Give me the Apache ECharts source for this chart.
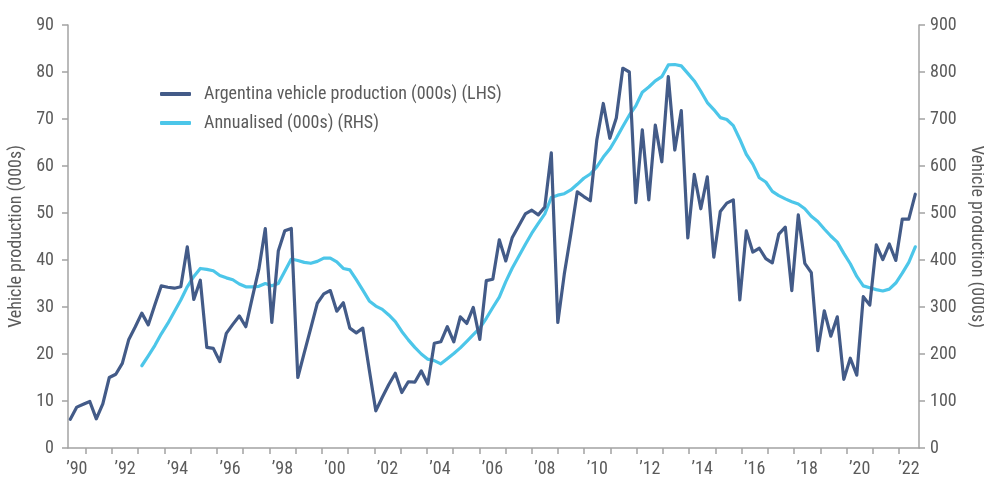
<!DOCTYPE html>
<html>
<head>
<meta charset="utf-8">
<script src="https://cdn.jsdelivr.net/npm/echarts@6/dist/echarts.min.js"></script>
<style>
  html, body { margin: 0; padding: 0; background: #fff; }
  #chart { width: 984px; height: 479px; }
</style>
</head>
<body>
<div id="chart"></div>
<script>
// quarterly vehicle production, 000s (LHS), from mid-1990
const production = [
  6.1, 8.7, 9.3, 9.9, 6.2, 9.4, 15.0, 15.7, 18.0, 23.1,
  25.8, 28.7, 26.2, 30.4, 34.5, 34.2, 34.0, 34.3, 42.8, 31.6,
  35.7, 21.4, 21.2, 18.4, 24.4, 26.3, 28.1, 25.8, 32.0, 38.0,
  46.7, 26.7, 41.9, 46.2, 46.7, 15.0, 20.3, 25.5, 30.8, 32.8,
  33.5, 29.1, 30.9, 25.5, 24.5, 25.5, 16.6, 7.9, 10.8, 13.5,
  15.9, 11.8, 14.1, 14.0, 16.4, 13.6, 22.3, 22.6, 25.8, 22.6,
  27.9, 26.5, 29.9, 23.1, 35.6, 35.9, 44.3, 39.8, 44.8, 47.3,
  49.8, 50.6, 49.6, 51.3, 62.8, 26.7, 37.0, 45.5, 54.5, 53.5,
  52.6, 65.5, 73.3, 65.9, 70.2, 80.8, 80.0, 52.2, 67.7, 52.8,
  68.7, 60.9, 79.0, 63.4, 71.8, 44.7, 58.2, 50.9, 57.7, 40.6,
  50.3, 52.1, 52.8, 31.5, 46.2, 41.7, 42.5, 40.3, 39.4, 45.5,
  47.0, 33.5, 49.6, 39.3, 37.3, 20.7, 29.2, 23.8, 27.9, 14.6,
  19.1, 15.5, 32.2, 30.4, 43.2, 40.1, 43.4, 39.9, 48.7, 48.7,
  54.0
];

// annualised production, 000s (RHS), starts at the 12th quarter
const annualisedStart = 11;
const annualised = [
  175, 196, 218, 243, 265, 290, 315, 343, 365, 382,
  380, 377, 367, 362, 358, 349, 343, 343, 344, 350,
  345, 350, 376, 402, 399, 395, 393, 397, 404, 404,
  396, 382, 379, 358, 336, 313, 302, 295, 283, 269,
  248, 230, 214, 200, 189, 186, 179, 190, 201, 213,
  227, 241, 255, 276, 299, 321, 354, 383, 408, 433,
  457, 478, 498, 533, 538, 541, 549, 561, 574, 583,
  598, 619, 636, 659, 684, 708, 728, 757, 768, 781,
  790, 815, 816, 813, 797, 781, 759, 735, 720, 703,
  699, 686, 657, 625, 604, 575, 566, 546, 537, 530,
  524, 519, 509, 493, 482, 466, 451, 438, 414, 392,
  365, 345, 341, 337, 334, 338, 351, 372, 395, 428
];

// year boundaries (ticks) and label positions on the year axis
const yearTicks = [
  1991, 1992, 1993, 1994, 1995, 1996, 1997, 1998, 1999, 2000, 2001,
  2002, 2003, 2004, 2005, 2006, 2007, 2008, 2009, 2010, 2011, 2012,
  2013, 2014, 2015, 2016, 2017, 2018, 2019, 2020, 2021, 2022
];
const yearLabels = [
  1990.66, 1992.5, 1994.5, 1996.5, 1998.5, 2000.5, 2002.5, 2004.5,
  2006.5, 2008.5, 2010.5, 2012.5, 2014.5, 2016.5, 2018.5, 2020.5, 2022.38
];

const font = "'Roboto Condensed', 'Liberation Sans Narrow', 'DejaVu Sans Condensed', Roboto, sans-serif";
const textColor = '#5b5b5b';
const axisColor = '#a3a3a3';

const chart = echarts.init(document.getElementById('chart'));

const axisCommon = {
  axisLine: { show: true, onZero: false, lineStyle: { color: axisColor, width: 1.5 } },
  axisTick: { show: true, length: 6, lineStyle: { color: axisColor, width: 1.5 } },
  splitLine: { show: false }
};

const option = {
  animation: false,
  backgroundColor: '#fff',
  grid: { left: 68, right: 65, top: 25, bottom: 31, outerBoundsMode: 'none' },
  legend: {
    orient: 'vertical',
    left: 155,
    top: 80,
    icon: 'roundRect',
    itemWidth: 31,
    itemHeight: 4,
    itemGap: 11,
    textStyle: { fontFamily: font, fontSize: 18, color: textColor, padding: [0, 0, 0, 8] },
    data: ['Argentina vehicle production (000s) (LHS)', 'Annualised (000s) (RHS)']
  },
  xAxis: [
    {
      type: 'value',
      min: 1990.324,
      max: 2022.762,
      ...axisCommon,
      axisTick: { ...axisCommon.axisTick, customValues: yearTicks },
      axisLabel: {
        customValues: yearLabels,
        margin: 12,
        fontFamily: font,
        fontSize: 18,
        color: textColor,
        formatter: v => '\u2019' + String(Math.floor(v)).slice(2)
      }
    },
    {
      type: 'value',
      min: -0.354,
      max: 130.57,
      show: false
    }
  ],
  yAxis: [
    {
      type: 'value',
      min: 0,
      max: 90,
      interval: 10,
      position: 'left',
      name: 'Vehicle production (000s)',
      nameLocation: 'middle',
      nameGap: 34,
      nameRotate: 90,
      nameTextStyle: { fontFamily: font, fontSize: 18, color: textColor },
      ...axisCommon,
      axisLabel: { margin: 14, fontFamily: font, fontSize: 18, color: textColor }
    },
    {
      type: 'value',
      min: 0,
      max: 900,
      interval: 100,
      position: 'right',
      name: 'Vehicle production (000s)',
      nameLocation: 'middle',
      nameGap: 47,
      nameRotate: -90,
      nameTextStyle: { fontFamily: font, fontSize: 18, color: textColor },
      ...axisCommon,
      axisLabel: { margin: 11, fontFamily: font, fontSize: 18, color: textColor }
    }
  ],
  series: [
    {
      name: 'Argentina vehicle production (000s) (LHS)',
      type: 'line',
      xAxisIndex: 1,
      yAxisIndex: 0,
      symbol: 'none',
      data: production.map((v, i) => [i, v]),
      lineStyle: { color: '#435b88', width: 3.2, cap: 'round', join: 'round' },
      itemStyle: { color: '#435b88' },
      z: 3
    },
    {
      name: 'Annualised (000s) (RHS)',
      type: 'line',
      xAxisIndex: 1,
      yAxisIndex: 1,
      symbol: 'none',
      data: annualised.map((v, i) => [i + annualisedStart, v]),
      lineStyle: { color: '#4cc6e9', width: 3.2, cap: 'round', join: 'round' },
      itemStyle: { color: '#4cc6e9' },
      z: 2
    }
  ]
};

chart.setOption(option);

window.addEventListener('resize', () => {
  chart?.resize();
});
</script>
</body>
</html>
